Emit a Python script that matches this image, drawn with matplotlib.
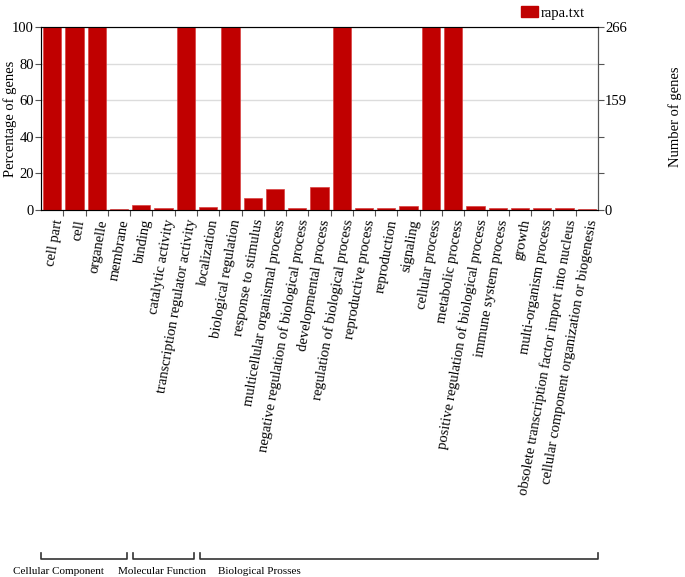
import matplotlib
matplotlib.use("Agg")
import matplotlib.pyplot as plt
import matplotlib.transforms as mtransforms
from matplotlib.patches import Patch

## Data

terms = ["cell part", "cell", "organelle", "membrane",
         "binding", "catalytic activity", "transcription regulator activity",
         "localization", "biological regulation", "response to stimulus",
         "multicellular organismal process", "negative regulation of biological process",
         "developmental process", "regulation of biological process",
         "reproductive process", "reproduction", "signaling", "cellular process",
         "metabolic process", "positive regulation of biological process",
         "immune system process", "growth", "multi-organism process",
         "obsolete transcription factor import into nucleus",
         "cellular component organization or biogenesis"]
percent = [100, 100, 100, 0.6,
           2.6, 1.2, 100,
           1.5, 100, 6.4,
           11.7, 1.2, 12.4, 100,
           1.2, 1.2, 2.3, 100,
           100, 2.3, 1.2, 0.9, 0.9,
           0.9, 0.5]
total_genes = 266
right_labels = ["0", "", "", "159", "", "266"]
groups = ["Cellular Component", "Molecular Function", "Biological Prosses"]
group_sizes = [4, 3, 18]

plt.rcParams["font.family"] = ["Liberation Serif", "DejaVu Serif"]

fig = plt.figure(figsize=(6.85, 5.77), dpi=100)
ax = fig.add_axes([0.0599, 0.636, 0.813, 0.317])

x = list(range(len(terms)))
ax.bar(x, percent, width=0.82, color="#c00000", edgecolor="#d84040", linewidth=0.5, zorder=3)
ax.set_xlim(-0.5, len(terms) - 0.5)
ax.set_ylim(0, 100)
ax.set_yticks([0, 20, 40, 60, 80, 100])
ax.yaxis.grid(True, color="#dcdcdc", linewidth=1, zorder=0)
ax.tick_params(axis="y", labelsize=10.5, length=4, color="#555555", pad=1)
fig.text(10 / 685, 1 - 119 / 577, "Percentage of genes", rotation=90,
         ha="center", va="center", fontsize=10.5)

# ticks at the boundaries between bars, labels at the bar centres
ax.set_xticks([i + 0.5 for i in x[:-1]])
ax.set_xticklabels([])
ax.tick_params(axis="x", which="major", length=4, color="#555555")
ax.set_xticks(x, minor=True)
ax.set_xticklabels(terms, minor=True, rotation=80, ha="right", rotation_mode="anchor", fontsize=10.5)
ax.tick_params(axis="x", which="minor", length=0, pad=6)

for s in ["left", "right", "top", "bottom"]:
    ax.spines[s].set_color("#555555")

ax2 = ax.twinx()
ax2.set_ylim(0, total_genes)
ax2.set_yticks([total_genes * p / 100 for p in [0, 20, 40, 60, 80, 100]])
ax2.set_yticklabels(right_labels)
ax2.tick_params(axis="y", labelsize=10.5, length=4, color="#555555", pad=1)
ax2.spines["right"].set_color("#555555")
fig.text(0.985, 1 - 117 / 577, "Number of genes", rotation=90, ha="center", va="center", fontsize=10.5)

# legend
fig.legend(handles=[Patch(color="#c00000", label="rapa.txt")], loc="upper left",
           bbox_to_anchor=(0.741, 1.012), frameon=False, fontsize=10.5,
           handlelength=1.2, handleheight=0.8, handletextpad=0.15)

# group brackets under the labels
trans = mtransforms.blended_transform_factory(ax.transData, fig.transFigure)
start = -0.5
y_line = 1 - 559 / 577
y_top = 1 - 553 / 577
for i, n in enumerate(group_sizes):
    x0 = start + (0.12 if i > 0 else 0)
    x1 = start + n - (0.12 if i < len(group_sizes) - 1 else 0)
    ax.plot([x0, x0, x1, x1], [y_top, y_line, y_line, y_top], color="#333333",
            linewidth=1.2, transform=trans, clip_on=False)
    start += n

fig.text(13 / 685, 1 - 571 / 577, groups[0], fontsize=8, va="center", ha="left")
fig.text(118 / 685, 1 - 571 / 577, groups[1], fontsize=8, va="center", ha="left")
fig.text(218 / 685, 1 - 571 / 577, groups[2], fontsize=8, va="center", ha="left")

fig.savefig("out.png", dpi=100)
